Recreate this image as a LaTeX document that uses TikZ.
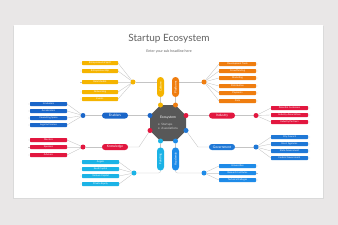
\documentclass[tikz,border=0pt]{standalone}
\usepackage{fontspec}
\setmainfont{Lato}
\usetikzlibrary{positioning, calc}

\definecolor{cBack}{HTML}{E9E7E7}
\definecolor{cShadow}{HTML}{DADADA}
\definecolor{cTitle}{HTML}{616161}
\definecolor{cLine}{HTML}{C4C4C4}
\definecolor{cOct}{HTML}{585858}
\definecolor{cOctTxt}{HTML}{D0D0D0}
\definecolor{cYel}{HTML}{F5B400}
\definecolor{cOra}{HTML}{EF7D0F}
\definecolor{cRed}{HTML}{E2173F}
\definecolor{cBlu}{HTML}{1A66C9}
\definecolor{cGov}{HTML}{1F78D6}
\definecolor{cCya}{HTML}{1BB3E6}
\definecolor{cSky}{HTML}{1E8BE8}

\pgfdeclarelayer{bg}
\pgfdeclarelayer{links}
\pgfsetlayers{bg,links,main}

\begin{document}
\begin{tikzpicture}[x=1pt, y=-1pt, line cap=round, line join=round,
  link/.style={draw=cLine, line width=0.35pt},
  bar/.style={rectangle, rounded corners=0.6pt, minimum width=37pt, minimum height=4pt,
    inner sep=0pt, outer sep=0pt, text=white, font=\fontsize{2.4}{2.8}\selectfont},
  pill/.style={rectangle, rounded corners=2.9pt, minimum width=26pt, minimum height=6pt,
    inner sep=0pt, outer sep=0pt, text=white, font=\fontsize{3.3}{4}\selectfont},
  vpill/.style={pill, rotate=90, minimum width=20pt, minimum height=7pt, rounded corners=3.4pt,
    font=\fontsize{3}{3.6}\selectfont},
  dot/.style={circle, minimum size=5pt, inner sep=0pt, outer sep=0pt}]

  % --- Fondo y diapositiva ---
  \useasboundingbox (0,0) rectangle (338,225);
  \begin{pgfonlayer}{bg}
    \fill[cBack] (0,0) rectangle (338,225);
    \fill[cShadow] (13,26) rectangle (323.6,199.2);
    \fill[white] (14,25) rectangle (323,198);
  \end{pgfonlayer}

  % --- Titulo ---
  \node[text=cTitle, font=\fontsize{10}{12}\selectfont] (title) at (169,39) {Startup Ecosystem};
  \node[text=cTitle, font=\fontsize{3.6}{4.2}\selectfont] (subtitle) at (169,51) {Enter your sub headline here};

  % --- Octagono central (esquinas) ---
  \coordinate (eco) at (168,123);
  \coordinate (cTL) at (160.5,105);
  \coordinate (cTR) at (175.5,105);
  \coordinate (cRU) at (186,115.5);
  \coordinate (cRD) at (186,130.5);
  \coordinate (cBR) at (175.5,141);
  \coordinate (cBL) at (160.5,141);
  \coordinate (cLD) at (150,130.5);
  \coordinate (cLU) at (150,115.5);
  \fill[cOct] (cTL) -- (cTR) -- (cRU) -- (cRD) -- (cBR) -- (cBL) -- (cLD) -- (cLU) -- cycle;

  \node[anchor=west, text=white, font=\fontsize{3.4}{4}\selectfont] (ecoTitle) at (156.5,118) {Ecosystem};
  \node[anchor=north west, text=cOctTxt, align=left, inner sep=0pt, xshift=1.5pt,
    font=\fontsize{3}{3.6}\selectfont] (ecoList) at (ecoTitle.south west)
    {\textbullet~~Startups\\\textbullet~~Associations};

  % puntos en las esquinas
  \node[dot, fill=cYel] (dCul) at (cTL) {};
  \node[dot, fill=cOra] (dPla) at (cTR) {};
  \node[dot, fill=cRed] (dInd) at (cRU) {};
  \node[dot, fill=cGov] (dGov) at (cRD) {};
  \node[dot, fill=cSky] (dAca) at (cBR) {};
  \node[dot, fill=cCya] (dFun) at (cBL) {};
  \node[dot, fill=cRed] (dKno) at (cLD) {};
  \node[dot, fill=cBlu] (dEna) at (cLU) {};

  % --- Ramas principales ---
  \node[vpill, fill=cYel] (culture) at (160.5,87) {Culture};
  \node[vpill, fill=cOra] (platforms) at (175.5,87) {Platforms};
  \node[vpill, fill=cCya, minimum width=23pt] (funding) at (160.5,159) {Funding};
  \node[vpill, fill=cSky, minimum width=23pt] (academia) at (175.5,159) {Academia};
  \node[pill, fill=cBlu] (enablers) at (115,115.5) {Enablers};
  \node[pill, fill=cRed] (knowledge) at (115,147) {Knowledge};
  \node[pill, fill=cRed] (industry) at (222,115.5) {Industry};
  \node[pill, fill=cGov] (govt) at (222,147) {Government};

  % nodos de reparto
  \node[dot, fill=cYel] (hubCul) at (133,82) {};
  \node[dot, fill=cOra] (hubPla) at (204,82) {};
  \node[dot, fill=cBlu] (hubEna) at (83,115.5) {};
  \node[dot, fill=cRed] (hubKno) at (83,147) {};
  \node[dot, fill=cRed] (hubInd) at (256,115.5) {};
  \node[dot, fill=cGov] (hubGov) at (256,147) {};
  \node[dot, fill=cCya] (hubFun) at (134,173) {};
  \node[dot, fill=cSky] (hubAca) at (204,173) {};

  \begin{pgfonlayer}{links}
    \draw[link] (culture) -- (dCul);
    \draw[link] (platforms) -- (dPla);
    \draw[link] (funding) -- (dFun);
    \draw[link] (academia) -- (dAca);
    \draw[link] (hubCul) -- (hubCul -| culture.center);
    \draw[link] (hubPla) -- (hubPla -| platforms.center);
    \draw[link, rounded corners=2pt] (funding.center) |- (hubFun);
    \draw[link, rounded corners=2pt] (academia.center) |- (hubAca);
    \draw[link] (dEna) -- (enablers) -- (hubEna);
    \draw[link] (dInd) -- (industry) -- (hubInd);
    \draw[link] (dKno) -- ([xshift=11pt]knowledge.east) -- (knowledge.east);
    \draw[link] (knowledge) -- (hubKno);
    \draw[link] (dGov) -- ([xshift=-11pt]govt.west) -- (govt.west);
    \draw[link] (govt) -- (hubGov);
  \end{pgfonlayer}

  % --- Hojas a la izquierda ---
  \foreach \y/\t [count=\i] in {63/Entrepreneurial Spirit, 71/Entrepreneurship, 82/Role Models, 92/Networking, 99/Events}{
    \node[bar, fill=cYel, minimum width=36pt] (cul\i) at (100,\y) {\t};
    \begin{pgfonlayer}{links}
      \draw[link] (hubCul) -- (cul\i.east) -- ([xshift=-2pt]cul\i.west);
    \end{pgfonlayer}
  }
  \foreach \y/\t [count=\i] in {104/Incubators, 111/Accelerators, 118/Coworking Space, 125/Legal \& Finance}{
    \node[bar, fill=cBlu] (ena\i) at (48.5,\y) {\t};
    \begin{pgfonlayer}{links}
      \draw[link] (hubEna) -- (ena\i.east) -- ([xshift=-2pt]ena\i.west);
    \end{pgfonlayer}
  }
  \foreach \y/\t [count=\i] in {140/Mentors, 147/Speakers, 155/Advisors}{
    \node[bar, fill=cRed] (kno\i) at (48.5,\y) {\t};
    \begin{pgfonlayer}{links}
      \draw[link] (hubKno) -- (kno\i.east) -- ([xshift=-2pt]kno\i.west);
    \end{pgfonlayer}
  }
  \foreach \y/\t [count=\i] in {162/Angels, 169/Seed Capital, 176/Venture Capital, 184/Private Equity}{
    \node[bar, fill=cCya] (fun\i) at (100.5,\y) {\t};
    \begin{pgfonlayer}{links}
      \draw[link] (hubFun) -- (fun\i.east) -- ([xshift=-2pt]fun\i.west);
    \end{pgfonlayer}
  }

  % --- Hojas a la derecha ---
  \foreach \y/\t [count=\i] in {64/Development Tools, 71/Crowdfunding, 78/Marketing, 86/Distribution, 93/Payments, 101/Data}{
    \node[bar, fill=cOra] (pla\i) at (237.5,\y) {\t};
    \begin{pgfonlayer}{links}
      \draw[link] (hubPla) -- (pla\i.west) -- ([xshift=2pt]pla\i.east);
    \end{pgfonlayer}
  }
  \foreach \y/\t [count=\i] in {108/Potential Customers, 115/Industry Associations, 122/Industry Partners}{
    \node[bar, fill=cRed] (ind\i) at (289.5,\y) {\t};
    \begin{pgfonlayer}{links}
      \draw[link] (hubInd) -- (ind\i.west) -- ([xshift=2pt]ind\i.east);
    \end{pgfonlayer}
  }
  \foreach \y/\t [count=\i] in {137/City Council, 144/Govt. Agencies, 151/State Government, 158/Federal Government}{
    \node[bar, fill=cGov] (gov\i) at (289.5,\y) {\t};
    \begin{pgfonlayer}{links}
      \draw[link] (hubGov) -- (gov\i.west) -- ([xshift=2pt]gov\i.east);
    \end{pgfonlayer}
  }
  \foreach \y/\t [count=\i] in {166/Universities, 173/Research Institutes, 180/Technical Colleges}{
    \node[bar, fill=cSky] (aca\i) at (237.5,\y) {\t};
    \begin{pgfonlayer}{links}
      \draw[link] (hubAca) -- (aca\i.west) -- ([xshift=2pt]aca\i.east);
    \end{pgfonlayer}
  }

\end{tikzpicture}
\end{document}
